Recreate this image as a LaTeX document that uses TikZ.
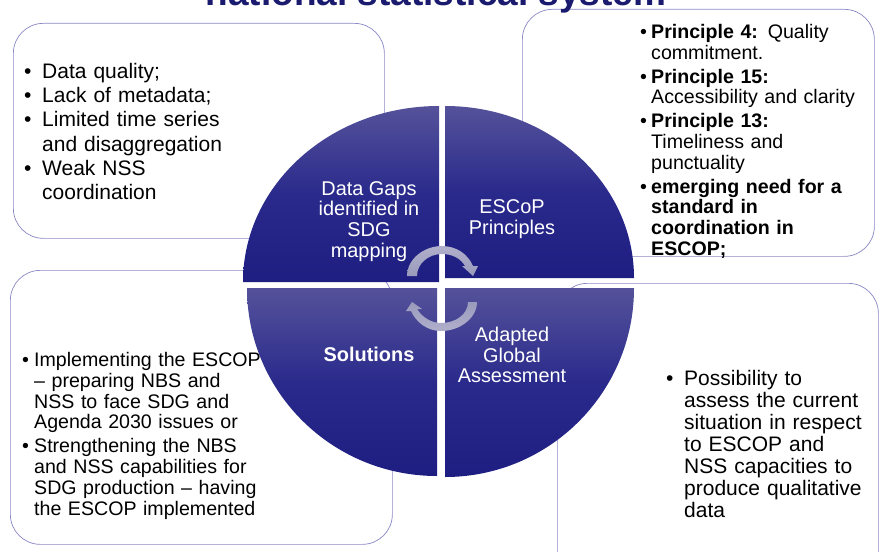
\documentclass[tikz,border=0pt]{standalone}
\usepackage{fontspec}
\setmainfont{Liberation Sans}
\definecolor{edge}{HTML}{8A88C4}
\definecolor{wtop}{HTML}{55529A}
\definecolor{wmid}{HTML}{2A2A8C}
\definecolor{wbot}{HTML}{1E1E82}
\definecolor{navy}{HTML}{1A1A6E}
\definecolor{turnA}{HTML}{B0B0CC}
\definecolor{turnB}{HTML}{9A9ABC}
\newcommand{\bul}[2][12pt]{\hangindent=#1\hangafter=1\noindent\makebox[#1][l]{•}#2\par}
\tikzset{
  x=1pt,y=-1pt,
  panel/.style={draw=edge,line width=0.7pt,rounded corners=30pt,fill=white,inner sep=0pt,anchor=north west},
  wedge/.style={top color=wtop,bottom color=wbot,middle color=wmid},
  wlabel/.style={text=white,align=center,font=\fontsize{19.9}{20.8}\selectfont,inner sep=0pt},
  listtext/.style={align=left,inner sep=0pt,anchor=north west,font=\fontsize{19.6}{20.8}\selectfont},
}
\begin{document}
\begin{tikzpicture}
\useasboundingbox (0,0) rectangle (893,551);
% panels
\node[panel,minimum width=371pt,minimum height=215pt] (pa) at (13,23) {};
\node[panel,minimum width=352pt,minimum height=247pt] (pb) at (522,9) {};
\node[panel,minimum width=382pt,minimum height=274pt] (pc) at (10,270) {};
\node[panel,minimum width=321pt,minimum height=300pt] (pd) at (557,283) {};
% title
\node[inner sep=0pt,text=navy,font=\bfseries\fontsize{37}{40}\selectfont,anchor=base] (title) at (436,6) {national statistical system};
% lists
\node[listtext,text width=260pt,font=\fontsize{21}{24.2}\selectfont] (ta) at (24,63) {%
\bul[18pt]{Data quality;}\bul[18pt]{Lack of metadata;}\bul[18pt]{Limited time series\newline and disaggregation}\bul[18pt]{Weak NSS\newline coordination}};
\node[listtext,text width=232pt] (tb) at (640,24) {\parskip=3pt
\bul[11pt]{\textbf{Principle 4:} Quality\newline commitment.}\bul[11pt]{\textbf{Principle 15:}\newline Accessibility and clarity}\bul[11pt]{\textbf{Principle 13:}\newline Timeliness and\newline punctuality}\bul[11pt]{\textbf{emerging need for a\newline standard in\newline coordination in\newline ESCOP;}}};
\node[listtext,text width=250pt] (tc) at (22,352) {\parskip=3pt
\bul[12pt]{Implementing the ESCOP\newline – preparing NBS and\newline NSS to face SDG and\newline Agenda 2030 issues or}\bul[12pt]{Strengthening the NBS\newline and NSS capabilities for\newline SDG production – having\newline the ESCOP implemented}};
\node[listtext,text width=215pt,font=\fontsize{21}{22}\selectfont] (td) at (666,370.5) {%
\bul[18pt]{Possibility to\newline assess the current\newline situation in respect\newline to ESCOP and\newline NSS capacities to\newline produce qualitative\newline data}};
% wedges
\path[wedge] (439,282) -- (243,282) arc[start angle=180,end angle=90,x radius=196,y radius=-176] -- cycle;
\path[wedge] (445,278) -- (445,106) arc[start angle=90,end angle=0,x radius=189,y radius=-172] -- cycle;
\path[wedge] (437,288) -- (437,476) arc[start angle=270,end angle=180,x radius=190,y radius=-188] -- cycle;
\path[wedge] (445,288) -- (634,288) arc[start angle=0,end angle=-90,x radius=189,y radius=-189] -- cycle;
% turning arrows
\path[top color=turnA,bottom color=turnB] (407,276) .. controls (407,259) and (424,246) .. (442,246) .. controls (456,246) and (468,254) .. (473,266) -- (478,266) -- (473,276) -- (462,266) -- (465,266) .. controls (461,259) and (453,254) .. (442,254) .. controls (428,254) and (417,264) .. (417,276) -- cycle;
\path[top color=turnB,bottom color=turnA] (477,302) .. controls (477,318) and (460,331) .. (441,331) .. controls (427,331) and (416,322) .. (411,311) -- (406,311) -- (412,302) -- (422,309) -- (417,309) .. controls (422,317) and (431,323) .. (441,323) .. controls (456,323) and (468,314) .. (468,302) -- cycle;
% labels
\node[wlabel] (la) at (369,221.5) {Data Gaps\\identified in\\SDG\\mapping};
\node[wlabel] (lb) at (512,219) {ESCoP\\Principles};
\node[wlabel,font=\bfseries\fontsize{19.9}{20.8}\selectfont] (lc) at (369,354) {Solutions};
\node[wlabel] (ld) at (512,355) {Adapted\\Global\\Assessment};
\end{tikzpicture}
\end{document}
